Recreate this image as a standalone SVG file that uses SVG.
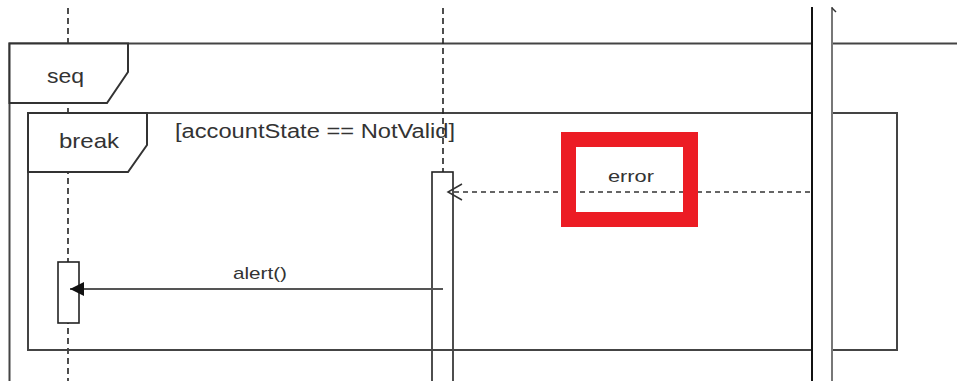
<svg xmlns="http://www.w3.org/2000/svg" width="957" height="381" viewBox="0 0 957 381">
<style>
.txt{font-family:"Liberation Sans",Arial,sans-serif;fill:#333}
.frame{fill:none;stroke:#444;stroke-width:2}
.tab{fill:#fff;stroke:#333;stroke-width:2}
.life{stroke:#222;stroke-width:1.6;stroke-dasharray:6 4;fill:none}
.act{fill:#fff;stroke:#222;stroke-width:1.6}
.msg{stroke:#555;stroke-width:2;fill:none}
.reply{stroke:#333;stroke-width:1.6;stroke-dasharray:5 4;fill:none}
</style>
<defs>
<marker id="open" markerUnits="userSpaceOnUse" viewBox="-16 -10 18 20" refX="0" refY="0" markerWidth="18" markerHeight="20" orient="auto">
<path d="M-14,-8 L0,0 L-14,8" fill="none" stroke="#333" stroke-width="1.5"/>
</marker>
<marker id="filled" markerUnits="userSpaceOnUse" viewBox="-16 -9 17 18" refX="0" refY="0" markerWidth="17" markerHeight="18" orient="auto">
<path d="M-14,-7 L0,0 L-14,7 Z" fill="#111"/>
</marker>
</defs>
<rect width="957" height="381" fill="#fff"/>

<g id="lifeline-left">
<line class="life" x1="68" y1="8" x2="68" y2="381"/>
</g>

<g id="activation-mid">
<rect class="act" x="432" y="172" width="21" height="220"/>
</g>

<g id="activation-left">
<rect class="act" x="58" y="262" width="21" height="61"/>
</g>

<g id="frame-seq">
<path class="frame" d="M9.5,381 L9.5,43.5 L957,43.5"/>
<polygon class="tab" points="9.5,43.5 128,43.5 128,72 107,103 9.5,103"/>
<text class="txt" x="47" y="83" font-size="21" textLength="37" lengthAdjust="spacingAndGlyphs">seq</text>
</g>

<g id="frame-break">
<rect class="frame" x="28" y="113" width="869" height="237"/>
<polygon class="tab" points="28,113 147,113 147,145 128,172 28,172"/>
<text class="txt" x="59" y="148" font-size="21" textLength="60" lengthAdjust="spacingAndGlyphs">break</text>
<text class="txt" x="175" y="138" font-size="20" textLength="280" lengthAdjust="spacingAndGlyphs">[accountState == NotValid]</text>
</g>

<g id="lifeline-mid">
<line class="life" x1="443" y1="8" x2="443" y2="172"/>
</g>

<g id="lifeline-right">
<rect x="812" y="7" width="20" height="380" fill="#fff"/>
<line x1="812" y1="7" x2="812" y2="381" stroke="#111" stroke-width="2"/>
<line x1="832" y1="7" x2="832" y2="381" stroke="#777" stroke-width="2"/>
<line x1="832" y1="8" x2="836" y2="12" stroke="#333" stroke-width="1.5"/>
</g>

<g id="connectors">
<line class="reply" x1="810" y1="192" x2="448" y2="192" marker-end="url(#open)"/>
<line class="msg" x1="443" y1="289" x2="70" y2="289" marker-end="url(#filled)"/>
<text class="txt" x="233" y="279" font-size="17" textLength="54" lengthAdjust="spacingAndGlyphs">alert()</text>
</g>

<g id="highlight-error">
<rect x="568.5" y="139.5" width="122" height="80" fill="none" stroke="#ec1c24" stroke-width="15"/>
<text class="txt" x="608" y="182" font-size="17" textLength="46" lengthAdjust="spacingAndGlyphs">error</text>
</g>
</svg>
